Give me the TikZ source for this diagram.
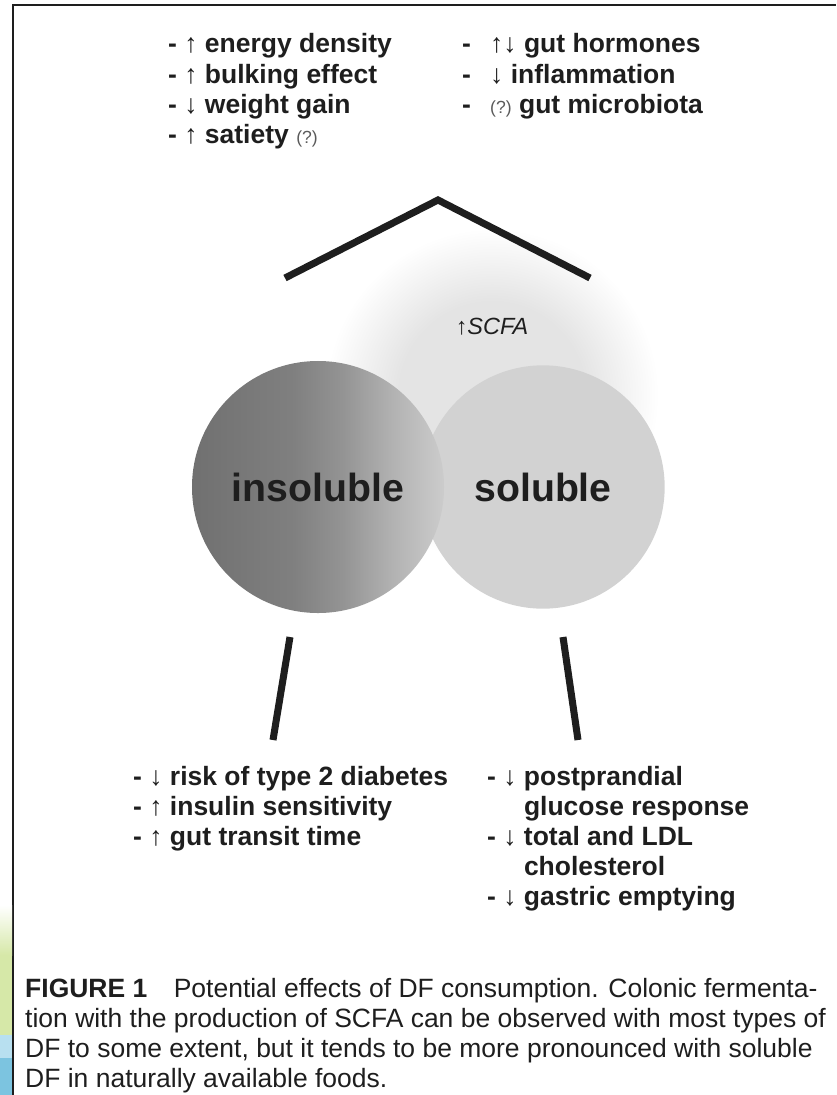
\documentclass[tikz,border=0pt]{standalone}
\usepackage{fontspec}
\setmainfont{Liberation Sans}
\usetikzlibrary{positioning}
\definecolor{ctext}{HTML}{1E1E1E}
\definecolor{cqmark}{HTML}{5A5A5A}
\definecolor{csol}{HTML}{D2D2D2}
\definecolor{cglow}{HTML}{E4E4E4}
\definecolor{cgreen}{HTML}{D6E8A8}
\definecolor{clblue}{HTML}{B8E0F0}
\definecolor{cblue}{HTML}{7CC4E0}
\pgfdeclarehorizontalshading{insolshade}{100bp}{color(0bp)=(black!56); color(25bp)=(black!56); color(45bp)=(black!50); color(55bp)=(black!42); color(65bp)=(black!30); color(75bp)=(black!20); color(100bp)=(black!20)}
\pgfdeclareradialshading{glowshade}{\pgfpointorigin}{color(0bp)=(cglow); color(14bp)=(cglow); color(25bp)=(white); color(50bp)=(white)}
\newcommand{\unsure}{{\fontsize{15}{18}\selectfont\mdseries\color{cqmark}(?)}}
\tikzset{
  item/.style={anchor=base west, inner sep=0pt, text=ctext, font=\fontsize{22.6}{25.6}\selectfont\bfseries},
  stroke/.style={draw=ctext, line width=6pt},
  fibre/.style={circle, inner sep=0pt, text=ctext, font=\fontsize{33.5}{40}\selectfont\bfseries},
  caption/.style={anchor=base west, inner sep=0pt, text=ctext, font=\fontsize{22.6}{25.6}\selectfont},
}
\begin{document}
\begin{tikzpicture}[x=0.03cm, y=-0.03cm]
  \useasboundingbox (0,0) rectangle (836,1095);
  % page frame and the coloured strip at the margin
  \draw[ctext, line width=1.7pt] (13,1095) -- (13,5) -- (836,5);
  \shade[top color=white, bottom color=cgreen] (0,905) rectangle (12,955);
  \fill[cgreen] (0,955) rectangle (12,1035);
  \fill[clblue] (0,1035) rectangle (12,1058);
  \fill[cblue] (0,1058) rectangle (12,1095);
  % SCFA haze behind the two fibres
  \node[circle, minimum size=10cm, shade, shading=glowshade] (glow) at (492,395) {};
  \node[text=ctext, font=\fontsize{20}{24}\selectfont\itshape] (scfa) at (492,327) {↑SCFA};
  % the two fibre types
  \node[fibre, minimum size=7.3cm, fill=csol] (sol) at (543,487) {soluble};
  \node[fibre, minimum size=7.56cm, shade, shading=insolshade] (insol) at (318,487) {insoluble};
  % bracket up to the shared effects, legs down to the own effects
  \coordinate (chevL) at (285,278);
  \coordinate (chevT) at (438,200);
  \coordinate (chevR) at (590,278);
  \draw[stroke] (chevL) -- (chevT) -- (chevR);
  \coordinate (legLa) at (290,637);
  \coordinate (legLb) at (273,740);
  \coordinate (legRa) at (563,637);
  \coordinate (legRb) at (578,740);
  \draw[stroke] (legLa) -- (legLb);
  \draw[stroke] (legRa) -- (legRb);
  % effects of both
  \foreach \t/\i in {{- ↑ energy density}/0, {- ↑ bulking effect}/1, {- ↓ weight gain}/2, {- ↑ satiety \unsure}/3}
    \node[item] (top\i) at (168,53+30*\i) {\t};
  \foreach \t/\i in {{↑↓ gut hormones}/0, {↓ inflammation}/1, {\unsure\ gut microbiota}/2} {
    \node[item] (dash\i) at (462,53+30*\i) {-};
    \node[item] (side\i) at (490,53+30*\i) {\t};
  }
  % effects of insoluble
  \foreach \t/\i in {{- ↓ risk of type 2 diabetes}/0, {- ↑ insulin sensitivity}/1, {- ↑ gut transit time}/2}
    \node[item] (ins\i) at (133,785+30*\i) {\t};
  % effects of soluble
  \foreach \t/\i in {{- ↓ postprandial}/0, {\hphantom{- ↓ }glucose response}/1, {- ↓ total and LDL}/2, {\hphantom{- ↓ }cholesterol}/3, {- ↓ gastric emptying}/4}
    \node[item] (sol\i) at (487,785+30*\i) {\t};
  % caption
  \foreach \t/\i in {{\textbf{FIGURE 1}\quad Potential effects of DF consumption. Colonic fermenta-}/0,
      {tion with the production of SCFA can be observed with most types of}/1,
      {DF to some extent, but it tends to be more pronounced with soluble}/2,
      {DF in naturally available foods.}/3}
    \node[caption] (cap\i) at (25,997+30*\i) {\t};
\end{tikzpicture}
\end{document}
